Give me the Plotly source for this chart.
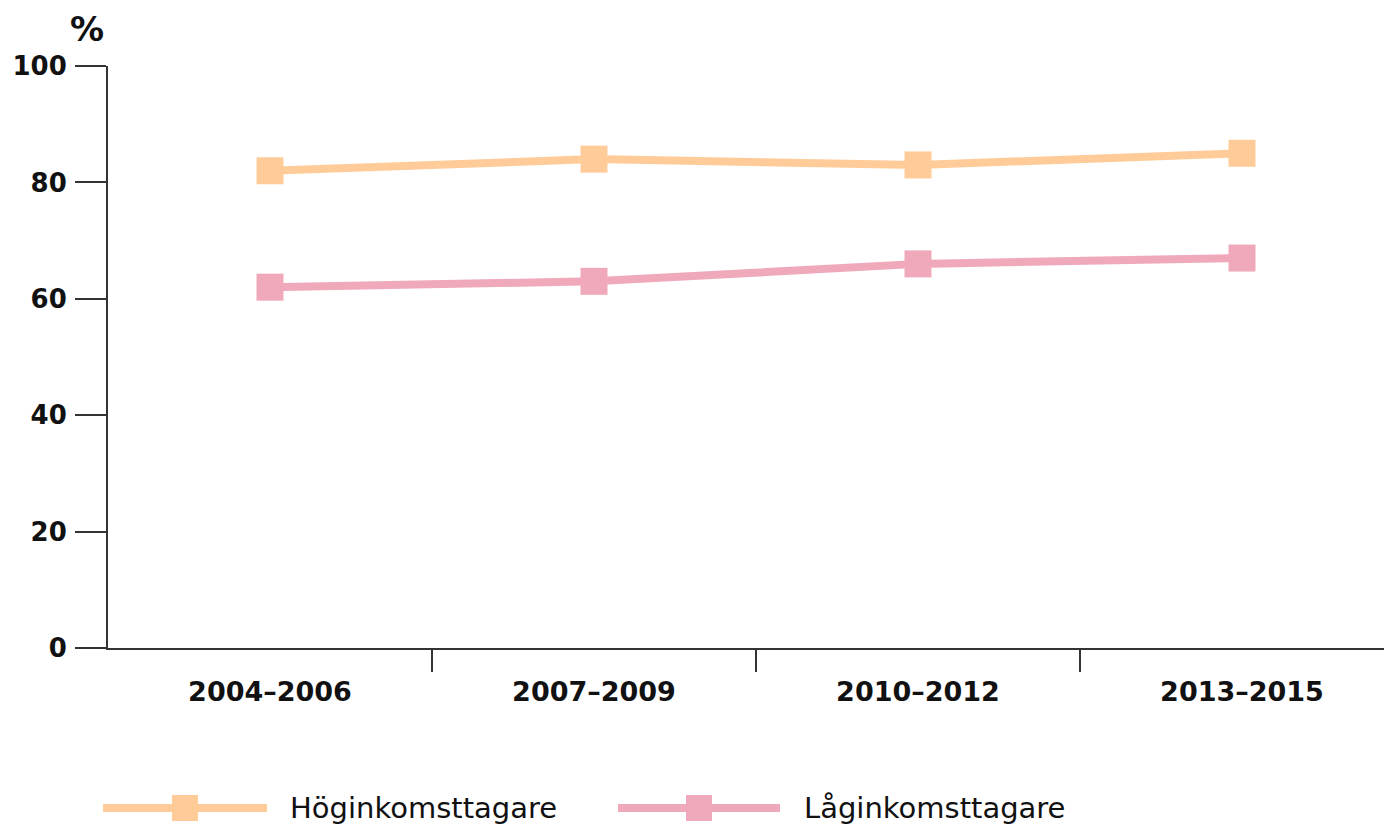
import plotly.graph_objects as go

periods = ["2004–2006", "2007–2009", "2010–2012", "2013–2015"]
hog = [82, 84, 83, 85]
lag = [62, 63, 66, 67]
y_ticks = [0, 20, 40, 60, 80, 100]
series_names = ["Höginkomsttagare", "Låginkomsttagare"]
colors = ["#FFCC99", "#F0A8BB"]

# page body has a default 8px margin; work in reference pixels shifted by it
OFF = 8
W, H = 1392 - OFF, 825 - OFF
ML, MR, MT, MB = 108 - OFF, 0, 66 - OFF, 825 - 648
pw, ph = W - ML - MR, H - MT - MB

xpos = list(range(len(periods)))

fig = go.Figure()
for vals, name, col in zip([hog, lag], series_names, colors):
    fig.add_trace(go.Scatter(
        x=xpos, y=vals, mode="lines+markers", name=name,
        line=dict(color=col, width=8),
        marker=dict(symbol="square", size=27, color=col),
        showlegend=False, xaxis="x", yaxis="y"))

# invisible trace to activate boundary tick axis
fig.add_trace(go.Scatter(x=[0.5], y=[None], xaxis="x2", yaxis="y", showlegend=False, hoverinfo="skip"))

axis_col = "#333333"
label_font = dict(family="DejaVu Sans", size=26, color="#111111", weight="bold")

xmin = -0.5
xmax = xmin + pw / 324.0

fig.update_layout(
    width=W, height=H,
    margin=dict(l=ML, r=MR, t=MT, b=MB),
    plot_bgcolor="white", paper_bgcolor="white",
    xaxis=dict(
        range=[xmin, xmax], tickvals=xpos, ticktext=periods,
        showline=True, linecolor=axis_col, linewidth=2,
        ticks="", showgrid=False, zeroline=False,
        tickfont=dict(family="DejaVu Sans", size=27, color="#111111", weight="bold"),
        ticklabelstandoff=19,
    ),
    xaxis2=dict(
        overlaying="x", anchor="y", side="bottom",
        range=[xmin, xmax], tickvals=[0.5, 1.5, 2.5],
        ticks="outside", ticklen=23, tickwidth=2, tickcolor=axis_col,
        showticklabels=False, showline=False, showgrid=False, zeroline=False,
    ),
    yaxis=dict(
        range=[0, 100], tickvals=y_ticks,
        showline=True, linecolor=axis_col, linewidth=2,
        ticks="outside", ticklen=31, tickwidth=2, tickcolor=axis_col,
        showgrid=False, zeroline=False,
        tickfont=label_font, ticklabelstandoff=3,
    ),
)


def px_x(v):
    return (v - OFF - ML) / pw


def px_y(v):
    return (H - MB - (v - OFF)) / ph


# "%" unit label
fig.add_annotation(text="%", xref="paper", yref="paper",
                   x=px_x(87), y=px_y(29),
                   showarrow=False, xanchor="center", yanchor="middle",
                   font=dict(family="DejaVu Sans", size=34, color="#111111", weight="bold"))

# custom legend
leg_y = 808
leg_items = [(103, 267, 288), (618, 780, 802)]
for (x0, x1, tx), name, col in zip(leg_items, series_names, colors):
    fig.add_shape(type="line", xref="paper", yref="paper",
                  x0=px_x(x0), x1=px_x(x1), y0=px_y(leg_y), y1=px_y(leg_y),
                  line=dict(color=col, width=8))
    cx = (x0 + x1) / 2
    fig.add_shape(type="rect", xref="paper", yref="paper",
                  x0=px_x(cx - 13), x1=px_x(cx + 13),
                  y0=px_y(leg_y - 13), y1=px_y(leg_y + 13),
                  line=dict(width=0), fillcolor=col)
    fig.add_annotation(text=name, xref="paper", yref="paper",
                       x=px_x(tx), y=px_y(leg_y), showarrow=False,
                       xanchor="left", yanchor="middle",
                       font=dict(family="DejaVu Sans", size=29, color="#111111"))

fig.write_html("out.html")
